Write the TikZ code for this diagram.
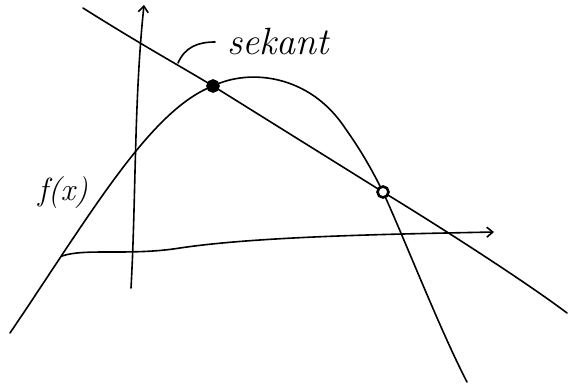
\documentclass[tikz,border=0pt]{standalone}
\usepackage{fontspec}
\usetikzlibrary{arrows.meta, positioning}

\begin{document}
\begin{tikzpicture}[
  x=1pt, y=-1pt,
  every node/.style={font=\itshape},
  pen/.style={line width=1.6pt, line cap=round, line join=round},
  axis/.style={pen, -{Straight Barb[length=6pt, width=10pt]}},
  hitdot/.style={circle, draw, line width=2.6pt, inner sep=0pt, minimum size=11pt},
  >=Stealth
]
\useasboundingbox (0,0) rectangle (570,383);

% ── Axes ──
\coordinate (xs) at (62,256);
\coordinate (xe) at (494,232);
\coordinate (ys) at (131,288);
\coordinate (ye) at (144,5);
\draw[axis] (xs) .. controls (85,248) and (130,256) .. (180,248)
  .. controls (260,236) and (400,234) .. (xe);
\draw[axis] (ys) .. controls (136,200) and (134,100) .. (ye);

% ── Intersection points ──
\coordinate (p1) at (213,86);
\coordinate (p2) at (383,192);

% ── Function curve ──
\draw[pen] (10,333) .. controls (90,215) and (150,110) .. (p1)
  .. controls (250,68) and (310,75) .. (345,128)
  .. controls (362,152) and (372,170) .. (p2)
  .. controls (405,240) and (440,330) .. (467,382);

% ── Secant ──
\coordinate (s0) at (83,8);
\coordinate (s1) at (567,313);
\draw[pen] (s0) .. controls (140,44) and (180,66) .. (p1)
  -- (p2) .. controls (450,233) and (530,285) .. (s1);

\node[hitdot, fill=black] (d1) at (p1) {};
\node[hitdot, fill=white] (d2) at (p2) {};

% ── Labels ──
\node[font=\fontsize{38}{40}\selectfont\itshape, anchor=west, inner sep=0pt] (sek) at (227,42) {sekant};
\draw[pen, shorten >=12pt] (178,63) .. controls (185,47) and (198,42) .. (sek.west);
\node[font=\fontsize{32}{34}\selectfont\itshape] (fx) at (63,193) {f(x)};

\end{tikzpicture}
\end{document}
